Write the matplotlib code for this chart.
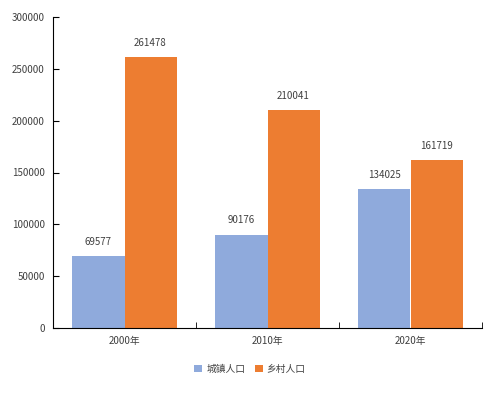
import numpy as np
import matplotlib.pyplot as plt

plt.rcParams['font.family'] = ['Noto Sans CJK SC', 'DejaVu Sans']

years = ['2000年', '2010年', '2020年']
urban = [69577, 90176, 134025]
rural = [261478, 210041, 161719]

fig = plt.figure(figsize=(5.01, 3.93), dpi=100)
ax = fig.add_axes([53/501, 1 - 328/393, (482 - 53)/501, (328 - 17)/393])

x = np.arange(len(years))
w = 0.364
b1 = ax.bar(x - w/2, urban, w, color='#8faadc', label='城镇人口')
b2 = ax.bar(x + w/2, rural, w, color='#ed7d31', label='乡村人口')

for bars in (b1, b2):
    for r in bars:
        ax.text(r.get_x() + r.get_width()/2, r.get_height() + 9000, str(int(r.get_height())),
                ha='center', va='bottom', fontsize=7, color='#404040')

ax.set_xlim(-0.5, 2.5)
ax.set_ylim(0, 300000)
ax.set_yticks(range(0, 300001, 50000))
ax.set_xticks(x)
ax.set_xticklabels(years)
ax.set_xticks([0.5, 1.5, 2.5], minor=True)
ax.tick_params(axis='x', which='major', length=0, pad=6, labelsize=7, labelcolor='#404040')
ax.tick_params(axis='x', which='minor', direction='in', length=4)
ax.tick_params(axis='y', direction='in', length=4, labelsize=7, labelcolor='#404040', pad=6)
for s in ['top', 'right']:
    ax.spines[s].set_visible(False)

fig.legend(loc='center', bbox_to_anchor=(250/501, 1 - 369/393), ncol=2, frameon=False,
           fontsize=7, labelcolor='#404040', handlelength=0.8, handleheight=0.8,
           handletextpad=0.4, columnspacing=1.0)

plt.savefig('out.png', dpi=100)
